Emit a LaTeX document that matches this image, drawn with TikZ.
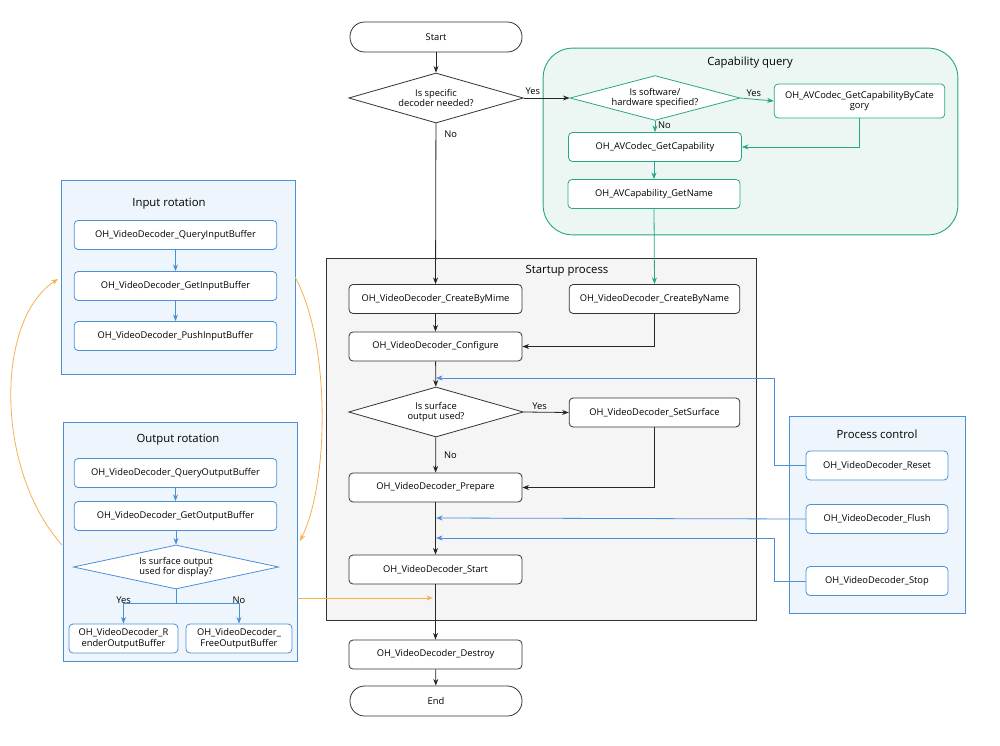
\documentclass[tikz,border=0pt]{standalone}
\usepackage{fontspec}
\setmainfont{Open Sans}
\usetikzlibrary{shapes.geometric,arrows.meta}
\definecolor{teal1}{HTML}{2AA58A}
\definecolor{blue1}{HTML}{4A90D9}
\definecolor{orange1}{HTML}{F5B150}
\begin{document}
\begin{tikzpicture}[x=0.75pt,y=-0.75pt,font=\fontsize{7}{8}\selectfont,
 every node/.style={inner sep=0pt},
 blk/.style={draw=black!80,rounded corners=3pt,fill=white,minimum width=129.75pt,minimum height=21.75pt,align=center,line width=0.6pt},
 tbx/.style={blk,draw=teal1},
 bbx/.style={blk,draw=blue1,minimum width=152pt},
 dia/.style={diamond,draw=black!80,fill=white,aspect=3.5,align=center,line width=0.6pt},
 term/.style={draw=black!80,rounded corners=11pt,fill=white,minimum width=129pt,minimum height=22.5pt,line width=0.6pt},
 ka/.style={draw=black!85,line width=0.6pt,-{Stealth[length=5pt]}},
 ta/.style={draw=teal1,line width=0.6pt,-{Stealth[length=5pt]}},
 ba/.style={draw=blue1,line width=0.6pt,-{Stealth[length=5pt]}},
 oa/.style={draw=orange1,line width=0.6pt,-{Stealth[length=5pt]}},
 ttl/.style={font=\fontsize{8.5}{10}\selectfont}]
\useasboundingbox (0,0) rectangle (1000,746);
\fill[white] (0,0) rectangle (1000,746);
% containers
\node[draw=teal1,fill=teal1!9,rounded corners=22pt,line width=0.7pt,minimum width=311pt,minimum height=140pt] (capbox) at (750.5,141.5) {};
\node[ttl] (capt) at (750,63) {Capability query};
\node[draw=black!80,fill=black!4,line width=0.6pt,minimum width=323pt,minimum height=272pt] (supbox) at (541.5,439.5) {};
\node[ttl] (supt) at (567,271) {Startup process};
\node[draw=blue1,fill=blue1!9,line width=0.6pt,minimum width=175pt,minimum height=145.5pt] (inbox) at (178.5,277) {};
\node[ttl] (int) at (169,204) {Input rotation};
\node[draw=blue1,fill=blue1!9,line width=0.6pt,minimum width=175.5pt,minimum height=179pt] (outbox) at (180,542) {};
\node[ttl] (outt) at (178,440) {Output rotation};
\node[draw=blue1,fill=blue1!9,line width=0.6pt,minimum width=132pt,minimum height=147.75pt] (pcbox) at (877,514.5) {};
\node[ttl] (pct) at (877,434) {Process control};
% main flow
\node[term] (start) at (436,37) {Start};
\node[dia,minimum width=131pt,minimum height=37.5pt] (d1) at (436,98) {Is specific\\decoder needed?};
\node[dia,draw=teal1,minimum width=127.5pt,minimum height=22.5pt] (d2) at (655,98) {Is software/\\hardware specified?};
\node[tbx,minimum width=128pt,minimum height=25.5pt] (cat) at (859.5,101) {OH\_AVCodec\_GetCapabilityByCate\\gory};
\node[tbx] (gcap) at (655,147) {OH\_AVCodec\_GetCapability};
\node[tbx,minimum width=129pt] (gname) at (654,194) {OH\_AVCapability\_GetName};
\node[blk] (mime) at (435.5,299) {OH\_VideoDecoder\_CreateByMime};
\node[blk,minimum width=128pt] (name) at (654.5,299) {OH\_VideoDecoder\_CreateByName};
\node[blk] (conf) at (435.5,346.5) {OH\_VideoDecoder\_Configure};
\node[dia,minimum width=131pt,minimum height=37.5pt] (d3) at (436,412) {Is surface\\output used?};
\node[blk,minimum width=128pt] (surf) at (654.5,412.5) {OH\_VideoDecoder\_SetSurface};
\node[blk] (prep) at (435.5,487.5) {OH\_VideoDecoder\_Prepare};
\node[blk] (vstart) at (435.5,569.5) {OH\_VideoDecoder\_Start};
\node[blk] (destroy) at (435.5,654.5) {OH\_VideoDecoder\_Destroy};
\node[term] (end) at (436,701) {End};
% input rotation
\node[bbx] (qin) at (175.5,235) {OH\_VideoDecoder\_QueryInputBuffer};
\node[bbx] (gin) at (175.5,286) {OH\_VideoDecoder\_GetInputBuffer};
\node[bbx] (pin) at (175.5,336) {OH\_VideoDecoder\_PushInputBuffer};
% output rotation
\node[bbx] (qout) at (175.5,473) {OH\_VideoDecoder\_QueryOutputBuffer};
\node[bbx] (gout) at (175.5,516) {OH\_VideoDecoder\_GetOutputBuffer};
\node[dia,draw=blue1,minimum width=154pt,minimum height=33pt,aspect=4.6] (d4) at (176,567) {Is surface output\\used for display?};
\node[bbx,minimum width=81.75pt] (rend) at (123.5,638.5) {OH\_VideoDecoder\_R\\enderOutputBuffer};
\node[bbx,minimum width=79.5pt] (free) at (239,638.5) {OH\_VideoDecoder\_\\FreeOutputBuffer};
% process control
\node[bbx,minimum width=106.5pt] (reset) at (877,465.5) {OH\_VideoDecoder\_Reset};
\node[bbx,minimum width=106.5pt] (flush) at (877,519) {OH\_VideoDecoder\_Flush};
\node[bbx,minimum width=106.5pt] (stop) at (877,581) {OH\_VideoDecoder\_Stop};
% main arrows
\draw[ka] (start) -- (d1);
\draw[ka] (d1) -- node[pos=0.07,right=6pt]{No} (mime);
\draw[ka] (mime) -- (conf);
\draw[ka] (conf) -- (d3);
\draw[ka] (d3) -- node[midway,right=6pt]{No} (prep);
\draw[ka] (prep) -- (vstart);
\draw[ka] (vstart) -- (destroy);
\draw[ka] (destroy) -- (end);
\draw[ka] (d1.east) -- node[above=2pt,pos=0.2]{Yes} (d2.west);
\draw[ka] (d3.east) -- node[above=2pt,pos=0.35]{Yes} (surf.west);
\draw[ka] (name.south) |- (conf.east);
\draw[ka] (surf.south) |- (prep.east);
% capability arrows
\draw[ta] (d2.east) -- node[above=2pt,pos=0.4]{Yes} (cat.west);
\draw[ta] (d2.south) -- node[right=2pt,pos=0.4]{No} (gcap.north);
\draw[ta] (cat.south) |- (gcap.east);
\draw[ta] (gcap.south -| gname.north) -- (gname.north);
\draw[ta] (gname.south) -- (name.north);
% blue arrows
\draw[ba] (qin) -- (gin);
\draw[ba] (gin) -- (pin);
\draw[ba] (qout) -- (gout);
\draw[ba] (gout.south -| d4.north) -- (d4.north);
\coordinate (br) at (176,603);
\draw[ba] (d4.south) -- (br) -| node[above=2pt,pos=0.6]{Yes} (rend.north);
\draw[ba] (br) -| node[above=2pt,pos=0.6]{No} (free.north);
\coordinate (m1) at (436,378);
\coordinate (m2) at (436,518);
\coordinate (m3) at (436,538);
\draw[ba] (reset.west) -| (774,378) -- (m1);
\draw[ba] (flush.west) -- (m2);
\draw[ba] (stop.west) -| (774,538) -- (m3);
% orange
\coordinate (o1) at (433,598);
\draw[oa] (outbox.east |- o1) -- (o1);
\draw[oa] (62,545) .. controls (-5,470) and (-5,320) .. (58,279);
\draw[oa] (295,277) .. controls (330,340) and (330,480) .. (300,541);
\end{tikzpicture}
\end{document}
